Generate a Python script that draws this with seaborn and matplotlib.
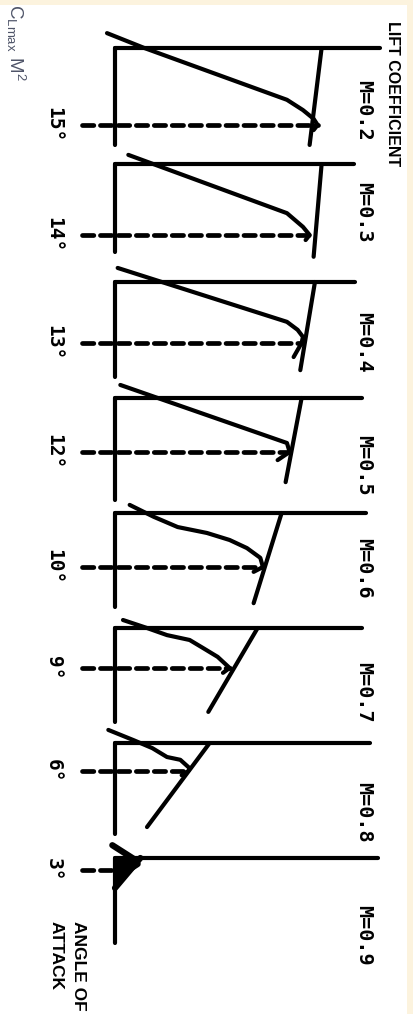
import matplotlib
matplotlib.use("Agg")
import matplotlib.pyplot as plt
import seaborn as sns
from matplotlib.patches import Rectangle

# Mach numbers, stall angle (deg) and CLmax per panel
mach = ["M=0.2", "M=0.3", "M=0.4", "M=0.5", "M=0.6", "M=0.7", "M=0.8", "M=0.9"]
stall_deg = [15, 14, 13, 12, 10, 9, 6, 3]
stall_label = ["15°", "14°", "13°", "12°", "10°", "9°", "6°", "3°"]
cl_max = [1.52, 1.46, 1.40, 1.31, 1.11, 0.86, 0.55, 0.10]

# lift curves (angle of attack in deg, lift coefficient)
curve_alpha = [
    [-2.9, 0.0, 10.1, 12.1, 13.8, 15.0, 16.0],
    [-1.8, 9.7, 12.4, 14.0, 15.0],
    [-3.0, 8.5, 10.2, 11.7, 13.0, 14.5, 16.0],
    [-2.9, 10.0, 12.0, 13.8],
    [-1.5, 0.7, 2.6, 3.7, 5.0, 6.5, 8.3, 10.0, 10.9],
    [-1.8, 0.0, 1.6, 2.7, 4.5, 6.5, 9.0, 10.1],
    [-2.8, -0.6, 1.1, 3.0, 3.6, 5.4, 6.0, 6.9],
    [-3.2, -1.5, 0.2, 1.5, 3.0, 4.0],
]
curve_cl = [
    [-0.06, 0.22, 1.29, 1.41, 1.49, 1.52, 1.49],
    [0.10, 1.29, 1.41, 1.46, 1.43],
    [0.02, 1.29, 1.37, 1.41, 1.40, 1.37, 1.34],
    [0.04, 1.29, 1.31, 1.22],
    [0.11, 0.29, 0.47, 0.69, 0.86, 0.99, 1.09, 1.11, 1.04],
    [0.06, 0.24, 0.39, 0.56, 0.66, 0.77, 0.86, 0.81],
    [-0.05, 0.14, 0.28, 0.39, 0.49, 0.56, 0.55, 0.50],
    [-0.02, 0.06, 0.14, 0.17, 0.10, 0.04],
]

# straight line through CLmax in every panel
limit_alpha = [[0, 18.9], [0, 18.3], [0, 18.8], [0, 18.7], [0, 16.7], [0, 18.9], [0, 18.0], [0, 7.5]]
limit_cl = [[1.55, 1.46], [1.55, 1.49], [1.50, 1.39], [1.40, 1.28], [1.25, 1.04], [1.07, 0.70], [0.71, 0.24], [0.19, 0.0]]

# drawn length of the two axes of each panel
cl_axis_len = [1.99, 1.79, 1.80, 1.85, 1.88, 1.85, 1.91, 1.97]
alpha_axis_len = [18.9, 17.4, 20.3, 22.7, 17.4, 21.2, 19.5, 21.3]

# layout (pixels) - the sketch is drawn on its side
W, H = 413, 1014
row_px = [48, 164, 282, 398, 513, 628, 743, 858]
deg_px = [5.13, 5.07, 4.69, 4.5, 5.4, 4.44, 4.67, 4.0]
mach_label_px = [110, 212, 342, 465, 568, 692, 812, 935]
origin_px = 115
cl_px = 133.3
panel_h = 115.7
above = 15

sns.set_theme(style="white")
plt.rcParams["font.family"] = ["DejaVu Sans"]

fig = plt.figure(figsize=(W / 100, H / 100), dpi=100, facecolor="#fcf3de")
fig.patches.append(Rectangle((0, 0), 407 / W, (H - 5) / H, transform=fig.transFigure,
                             facecolor="white", edgecolor="none", zorder=-5))

lw = 3.0
for i in range(len(mach)):
    top = row_px[i] - above
    ax = fig.add_axes([0, 1 - (top + panel_h) / H, 1, panel_h / H])
    ax.patch.set_alpha(0)

    ax.plot([0, cl_axis_len[i]], [0, 0], color="black", lw=lw, solid_capstyle="round", clip_on=False)
    ax.plot([0, 0], [0, alpha_axis_len[i]], color="black", lw=lw, solid_capstyle="round", clip_on=False)

    if i == len(mach) - 1:
        # the last panel is squeezed into a solid little wedge
        ax.fill_betweenx(limit_alpha[i], 0, limit_cl[i], color="black", lw=0)

    sns.lineplot(x=curve_cl[i], y=curve_alpha[i], sort=False, estimator=None, color="black",
                 lw=lw + (1.5 if i == 7 else 0), ax=ax, solid_capstyle="round", clip_on=False)
    sns.lineplot(x=limit_cl[i], y=limit_alpha[i], sort=False, estimator=None, color="black",
                 lw=lw + (1.5 if i == 7 else 0), ax=ax, solid_capstyle="round", clip_on=False)

    ax.plot([-0.25, cl_max[i]], [stall_deg[i], stall_deg[i]], color="black", lw=3.4,
            linestyle=(0, (2.4, 1.4)), dash_capstyle="round", clip_on=False)

    ax.text(-0.46, stall_deg[i], stall_label[i], rotation=-90, ha="center", va="center",
            fontsize=14, family="DejaVu Sans Mono", weight="bold", color="black")

    ax.set_xlim(-origin_px / cl_px, (W - origin_px) / cl_px)
    ax.set_ylim((panel_h - above) / deg_px[i], -above / deg_px[i])
    ax.axis("off")

    fig.text(364 / W, 1 - mach_label_px[i] / H, mach[i], rotation=-90, ha="center", va="center",
             fontsize=14.5, family="DejaVu Sans Mono", weight="bold", color="black")

fig.text(392 / W, 1 - 94 / H, "LIFT COEFFICIENT", rotation=-90, ha="center", va="center",
         fontsize=11.5, family="Liberation Sans", weight="bold", color="black")
fig.text(67 / W, 1 - 921 / H, "ANGLE OF\nATTACK", rotation=-90, ha="center", va="top",
         multialignment="left", linespacing=1.65, fontsize=12.5, family="Liberation Sans",
         weight="bold", color="black")
fig.text(16 / W, 1 - 4 / H, r"$\mathregular{C_{Lmax}\ M^2}$", rotation=-90, ha="center", va="top",
         fontsize=13.5, family="Liberation Sans", color="#4e5468")

fig.savefig("out.png", dpi=100, facecolor=fig.get_facecolor())
